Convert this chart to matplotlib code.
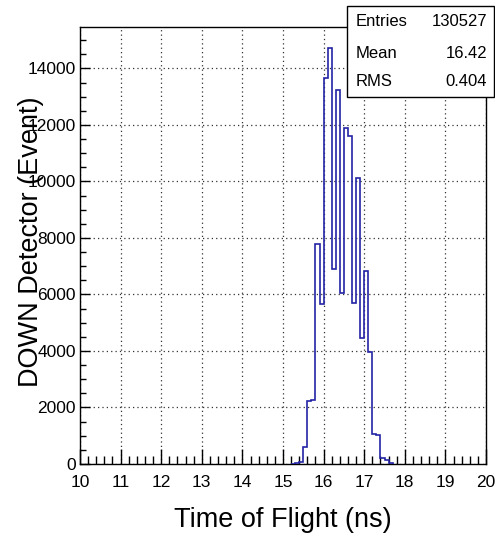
import matplotlib
matplotlib.use("Agg")
import matplotlib.pyplot as plt
from matplotlib.patches import Rectangle
from matplotlib.ticker import MultipleLocator
import numpy as np

plt.rcParams['font.family'] = ['Liberation Sans', 'DejaVu Sans']

# Histogram data (bin width 0.1 ns)
bin_edges = [15.2, 15.3, 15.4, 15.5, 15.6, 15.7, 15.8, 15.9, 16.0, 16.1, 16.2,
             16.3, 16.4, 16.5, 16.6, 16.7, 16.8, 16.9, 17.0, 17.1, 17.2, 17.3,
             17.4, 17.5, 17.6, 17.7]
counts = [10, 45, 80, 600, 2230, 2260, 7790, 5660, 13670, 14730, 6900, 13220,
          6050, 11890, 11600, 5700, 10130, 4460, 6820, 3950, 1050, 1030, 200,
          140, 45]

stats_labels = ["Entries", "Mean", "RMS"]
stats_values = ["130527", "16.42", "0.404"]

x_title = "Time of Flight (ns)"
y_title = "DOWN Detector (Event)"

W, H = 495, 536
fig = plt.figure(figsize=(W / 100, H / 100), dpi=100)
ax = fig.add_axes([80 / W, (H - 464) / H, (486 - 80) / W, (464 - 27) / H])

ax.stairs(counts, bin_edges, baseline=0, color='#2424a6', linewidth=1.2, zorder=3)

ax.set_xlim(10, 20)
ax.set_ylim(0, 1.05 * max(counts))

ax.xaxis.set_major_locator(MultipleLocator(1))
ax.xaxis.set_minor_locator(MultipleLocator(0.2))
ax.yaxis.set_major_locator(MultipleLocator(2000))
ax.yaxis.set_minor_locator(MultipleLocator(500))

ax.tick_params(axis='x', which='major', direction='in', length=11, width=1,
               labelsize=12.5, pad=8, top=False)
ax.tick_params(axis='x', which='minor', direction='in', length=5.8, width=1, top=False)
ax.tick_params(axis='y', which='major', direction='in', length=7.5, width=1,
               labelsize=12.5, pad=3, right=False)
ax.tick_params(axis='y', which='minor', direction='in', length=4.3, width=1, right=False)

ax.grid(True, which='major', color='#333333', linewidth=0.9, linestyle=(0, (1, 2.5)))
ax.set_axisbelow(True)
for s in ax.spines.values():
    s.set_linewidth(1.0)

fig.text(283 / W, (H - 527) / H, x_title, ha='center', va='baseline', fontsize=19.5)
fig.text(31 / W, (H - 242) / H, y_title, ha='center', va='center', rotation=90,
         fontsize=19.5)

# Stats box
bx0, bx1, by0, by1 = 347, 494, 6, 97
fig.patches.append(Rectangle((bx0 / W, (H - by1) / H), (bx1 - bx0) / W, (by1 - by0) / H,
                             transform=fig.transFigure, facecolor='white',
                             edgecolor='black', linewidth=1.0, zorder=10))
row_y = [22, 53, 82]
for lab, val, ry in zip(stats_labels, stats_values, row_y):
    fig.text(356 / W, (H - ry) / H, lab, ha='left', va='center', fontsize=12, zorder=11)
    fig.text(487 / W, (H - ry) / H, val, ha='right', va='center', fontsize=12, zorder=11)

fig.savefig("out.png", dpi=100)
